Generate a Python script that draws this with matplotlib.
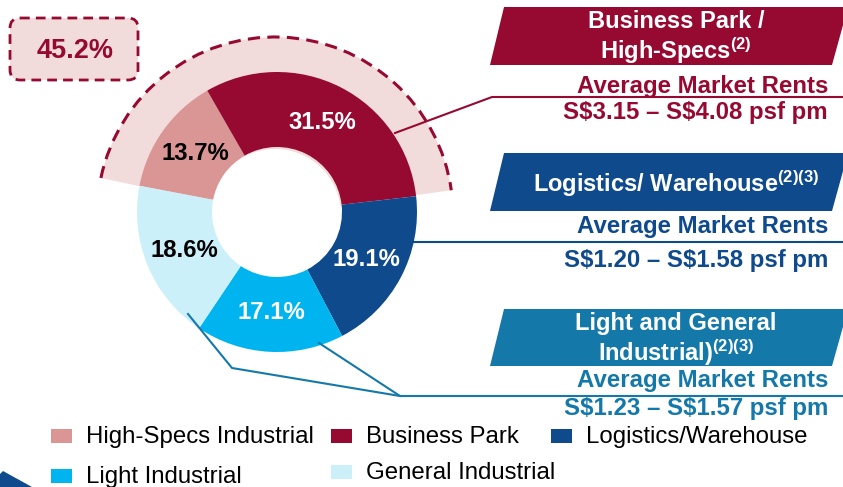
import matplotlib.pyplot as plt
import matplotlib.patches as mpatches

plt.rcParams['font.family'] = ['Liberation Sans', 'DejaVu Sans']
plt.rcParams['mathtext.fontset'] = 'custom'
plt.rcParams['mathtext.rm'] = 'Liberation Sans:bold'
plt.rcParams['mathtext.it'] = 'Liberation Sans:bold'

# data (clockwise from the left)
segments = ['High-Specs Industrial', 'Business Park', 'Logistics/Warehouse',
            'Light Industrial', 'General Industrial']
shares = [13.7, 31.5, 19.1, 17.1, 18.6]
seg_colors = ['#d99694', '#960a32', '#0e4a8c', '#00b4f0', '#ccf0fa']
pct_colors = ['black', 'white', 'white', 'white', 'black']
combined_share = '45.2%'

banner_titles = ['Business Park /\nHigh-Specs$^{(2)}$',
                 'Logistics/ Warehouse$^{(2)(3)}$',
                 'Light and General\nIndustrial)$^{(2)(3)}$']
rent_ranges = ['S$3.15 – S$4.08 psf pm',
               'S$1.20 – S$1.58 psf pm',
               'S$1.23 – S$1.57 psf pm']
banner_colors = ['#960a32', '#0e4a8c', '#1479a8']

W, H = 843, 487
fig = plt.figure(figsize=(W / 100, H / 100), dpi=100)
ax = fig.add_axes([0, 0, 1, 1])

cx, cy = 277, 212
# highlighted background behind high-specs + business park
ax.add_patch(mpatches.Wedge((275, 215), 178, -168, -8, width=112,
                            facecolor='#f2dcdb', edgecolor='none', zorder=1))
ax.add_patch(mpatches.Arc((275, 215), 356, 356, theta1=-168, theta2=-8,
                          color='#960a32', lw=2.2, linestyle=(0, (4.0, 2.4)),
                          zorder=2))

# y axis is flipped below, so counterclock=True draws clockwise on screen
wedges, texts, autotexts = ax.pie(
    shares, colors=seg_colors, radius=140, center=(cx, cy),
    startangle=-169.2, counterclock=True, autopct='%.1f%%',
    pctdistance=0.72, wedgeprops=dict(width=75, linewidth=0, zorder=3),
    textprops=dict(fontsize=17.2, fontweight='bold'))
for t, c in zip(autotexts, pct_colors):
    t.set_color(c)
    t.set_zorder(5)

ax.set_xlim(0, W)
ax.set_ylim(H, 0)
ax.set_aspect('auto')
ax.axis('off')

# 45.2% dashed box
ax.add_patch(mpatches.FancyBboxPatch((16, 24), 116, 50,
                                     boxstyle='round,pad=6,rounding_size=10',
                                     facecolor='#f2dcdb', edgecolor='#960a32',
                                     lw=2, linestyle=(0, (3.5, 2.2)), zorder=2))
ax.text(75, 51, combined_share, fontsize=19.5, fontweight='bold',
        color='#960a32', ha='center', va='center', zorder=5)

# banners
banner_top = [7, 153, 309]
banner_bot = [65, 211, 366]
title_y = [38, 184, 340]
avg_y = [86, 227, 380]
rent_y = [112, 260, 408]
for i in range(3):
    top, bot = banner_top[i], banner_bot[i]
    ax.add_patch(mpatches.Polygon([(504, top), (848, top), (832, bot), (490, bot)],
                                  closed=True, facecolor=banner_colors[i],
                                  edgecolor='none', zorder=2))
    ax.text(676, title_y[i], banner_titles[i], fontsize=17, fontweight='bold',
            color='white', ha='center', va='center', linespacing=1.1, zorder=5)
    ax.text(828, avg_y[i], 'Average Market Rents', fontsize=17.3,
            fontweight='bold', color=banner_colors[i], ha='right',
            va='center', zorder=5)
    ax.text(828, rent_y[i], rent_ranges[i], fontsize=17.3, fontweight='bold',
            color=banner_colors[i], ha='right', va='center', zorder=5,
            parse_math=False)

# leader lines
ax.plot([395, 492, W], [133, 97, 97], color='#960a32', lw=1.5, zorder=4)
ax.plot([402, W], [242, 242], color='#0e4a8c', lw=1.5, zorder=4)
ax.plot([188, 232, 400, W], [314, 368, 396, 396], color='#1479a8', lw=1.5, zorder=4)
ax.plot([319, 400], [343, 396], color='#1479a8', lw=1.5, zorder=4)

# legend (manual layout)
leg_box_x = [51, 331, 551, 51, 331]
leg_box_y = [436, 436, 436, 476, 472]
for name, col, lx, ly in zip(segments, seg_colors, leg_box_x, leg_box_y):
    ax.add_patch(mpatches.Rectangle((lx, ly - 7), 21, 14, facecolor=col,
                                    edgecolor='none', zorder=3))
    ax.text(lx + 35, ly + 1, name, fontsize=17.3, color='black',
            ha='left', va='center', zorder=5)

# corner arrow fragment
ax.add_patch(mpatches.Polygon([(0, 474), (3, 471), (32, H), (0, H)],
                              closed=True, facecolor='#0e4a8c',
                              edgecolor='none', zorder=2))

fig.savefig('out.png', dpi=100)
